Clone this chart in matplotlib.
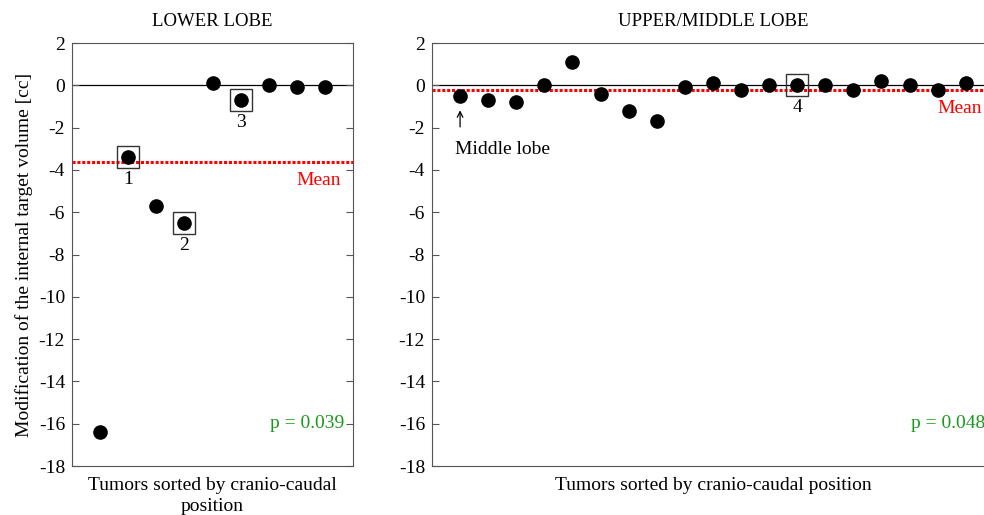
import numpy as np
import matplotlib.pyplot as plt

plt.rcParams['font.family'] = ['Liberation Serif', 'DejaVu Serif']
plt.rcParams['axes.unicode_minus'] = False

# lower lobe tumors, sorted by cranio-caudal position
lower_vals = [-16.4, -3.4, -5.7, -6.5, 0.1, -0.7, 0.0, -0.1, -0.1]
lower_boxed = [2, 4, 6]          # tumor index (1-based)
lower_box_labels = ['1', '2', '3']
lower_p = 'p = 0.039'

# upper / middle lobe tumors
upper_vals = [-0.5, -0.7, -0.8, 0.0, 1.1, -0.4, -1.2, -1.7, -0.1, 0.1,
              -0.2, 0.0, 0.0, 0.0, -0.2, 0.2, 0.0, -0.2, 0.1]
upper_boxed = [13]
upper_box_labels = ['4']
upper_p = 'p = 0.048'

yticks = list(range(2, -19, -2))
fs = 14

fig = plt.figure(figsize=(9.84, 5.15), dpi=100)
axL = fig.add_axes([0.0732, 0.0951, 0.2856, 0.8214])
axR = fig.add_axes([0.439, 0.0951, 0.571, 0.8214])


def draw_panel(ax, vals, boxed, box_labels, ptext, title, xlabel):
    x = np.arange(1, len(vals) + 1)
    vals = np.array(vals)
    ax.set_xlim(0, len(vals) + 1)
    ax.set_ylim(-18, 2)
    ax.axhline(0, color='black', lw=0.9, zorder=1)
    m = vals.mean()
    ax.axhline(m, color='red', lw=2.2, ls=(0, (1, 0.6)), zorder=2)
    ax.plot(x, vals, 'o', color='black', ms=9.5, zorder=4)
    bi = np.array(boxed) - 1
    ax.plot(x[bi], vals[bi], 's', ms=16, mfc='none', mec='#333333', mew=1.0, zorder=3)
    for i, lab in zip(bi, box_labels):
        ax.annotate(lab, (x[i], vals[i]), xytext=(0, -16), textcoords='offset points',
                    ha='center', va='center', fontsize=fs)
    ax.set_yticks(yticks)
    ax.set_xticks([])
    ax.tick_params(axis='y', direction='in', length=5, right=True, labelsize=fs,
                   color='#555555', pad=5)
    for s in ax.spines.values():
        s.set_color('#555555')
    ax.set_title(title, fontsize=fs - 0.5, pad=12)
    ax.set_xlabel(xlabel, fontsize=fs, labelpad=8, linespacing=1.3)
    ax.text(len(vals) + 0.58, m - 0.45, 'Mean', color='red', ha='right', va='top', fontsize=fs)
    ax.text(len(vals) + 0.68, -16, ptext, color='#1a9a1a', ha='right', va='center', fontsize=fs)


draw_panel(axL, lower_vals, lower_boxed, lower_box_labels, lower_p, 'LOWER LOBE',
           'Tumors sorted by cranio-caudal\nposition')
draw_panel(axR, upper_vals, upper_boxed, upper_box_labels, upper_p, 'UPPER/MIDDLE LOBE',
           'Tumors sorted by cranio-caudal position')
axL.set_ylabel('Modification of the internal target volume [cc]', fontsize=fs, labelpad=4)

axR.annotate('', xy=(1, upper_vals[0] - 0.55), xytext=(1, -2.1),
             arrowprops=dict(arrowstyle='->', color='black', lw=0.9))
axR.text(0.82, -3.05, 'Middle lobe', ha='left', va='center', fontsize=fs)

fig.savefig('out.png', dpi=100)
